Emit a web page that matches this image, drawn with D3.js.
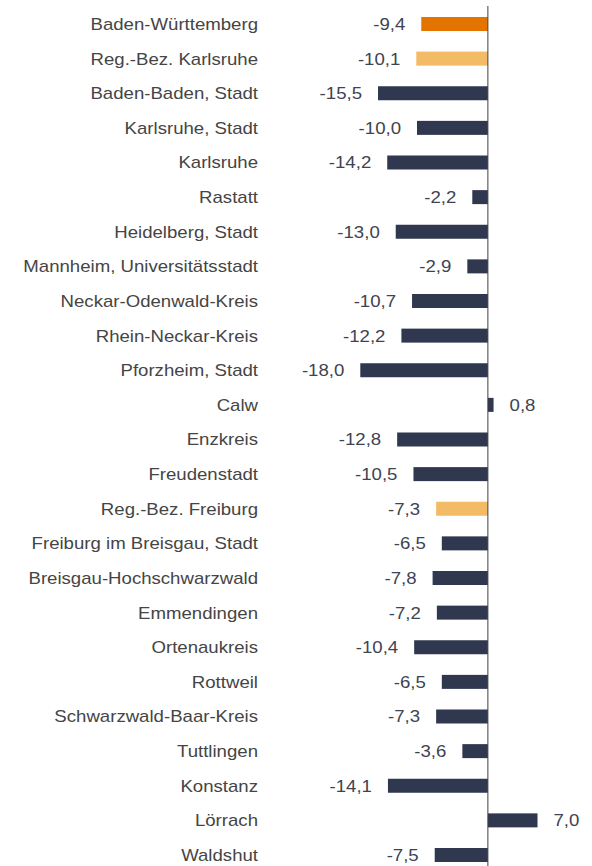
<!DOCTYPE html>
<html>
<head>
<meta charset="utf-8">
<script src="https://cdn.jsdelivr.net/npm/d3@7"></script>
<style>
  html, body { margin: 0; padding: 0; background: #fff; }
  svg { display: block; }
  text { font-family: "Liberation Sans", Arial, sans-serif; }
</style>
</head>
<body>
<svg id="chart" width="592" height="866"></svg>
<script>
// Regions (in display order)
const regions = [
  "Baden-Württemberg", "Reg.-Bez. Karlsruhe", "Baden-Baden, Stadt", "Karlsruhe, Stadt",
  "Karlsruhe", "Rastatt", "Heidelberg, Stadt", "Mannheim, Universitätsstadt",
  "Neckar-Odenwald-Kreis", "Rhein-Neckar-Kreis", "Pforzheim, Stadt", "Calw",
  "Enzkreis", "Freudenstadt", "Reg.-Bez. Freiburg", "Freiburg im Breisgau, Stadt",
  "Breisgau-Hochschwarzwald", "Emmendingen", "Ortenaukreis", "Rottweil",
  "Schwarzwald-Baar-Kreis", "Tuttlingen", "Konstanz", "Lörrach", "Waldshut"
];

// Change in percent
const changes = [
  -9.4, -10.1, -15.5, -10.0, -14.2, -2.2, -13.0, -2.9, -10.7, -12.2, -18.0, 0.8,
  -12.8, -10.5, -7.3, -6.5, -7.8, -7.2, -10.4, -6.5, -7.3, -3.6, -14.1, 7.0, -7.5
];

// Level of each region: state, administrative district or county
const levels = [
  "land", "bezirk", "kreis", "kreis", "kreis", "kreis", "kreis", "kreis",
  "kreis", "kreis", "kreis", "kreis", "kreis", "kreis", "bezirk", "kreis",
  "kreis", "kreis", "kreis", "kreis", "kreis", "kreis", "kreis", "kreis", "kreis"
];

const levelColors = { land: "#E37400", bezirk: "#F3BB66", kreis: "#2F384F" };

const data = regions.map((name, i) => ({ name, value: changes[i], level: levels[i] }));

const svg = d3.select("#chart");
const width = 592, height = 866;
const fontSize = 17;
const stretch = 1.095; // horizontal stretch of the label type

const x = d3.scaleLinear().domain([-18, 7]).range([360.3, 537.5]);
const rowStep = 34.625;
const y = d3.scaleBand()
  .domain(regions)
  .range([24 - rowStep / 2, 24 + rowStep * (regions.length - 0.5)])
  .paddingInner(1 - 14 / rowStep)
  .paddingOuter((1 - 14 / rowStep) / 2);

const fmt = v => d3.format(".1f")(v).replace(".", ",").replace("−", "-");
const cy = d => y(d.name) + y.bandwidth() / 2;

// Bars
svg.append("g")
  .selectAll("rect")
  .data(data)
  .join("rect")
  .attr("x", d => x(Math.min(0, d.value)))
  .attr("width", d => Math.abs(x(d.value) - x(0)))
  .attr("y", d => y(d.name))
  .attr("height", y.bandwidth())
  .attr("fill", d => levelColors[d.level]);

// Zero line
svg.append("line")
  .attr("x1", x(0)).attr("x2", x(0))
  .attr("y1", 6).attr("y2", height)
  .attr("stroke", "#404040")
  .attr("stroke-width", 1);

// Category labels
svg.append("g")
  .selectAll("text")
  .data(data)
  .join("text")
  .attr("transform", d => `translate(258,${cy(d)}) scale(${stretch},1)`)
  .attr("dy", "0.35em")
  .attr("text-anchor", "end")
  .attr("font-size", fontSize)
  .attr("fill", "#454545")
  .text(d => d.name);

// Value labels
svg.append("g")
  .selectAll("text")
  .data(data)
  .join("text")
  .attr("transform", d => `translate(${d.value < 0 ? x(d.value) - 16 : x(d.value) + 16},${cy(d)}) scale(${stretch},1)`)
  .attr("dy", "0.35em")
  .attr("text-anchor", d => d.value < 0 ? "end" : "start")
  .attr("font-size", fontSize)
  .attr("fill", "#3E4352")
  .text(d => fmt(d.value));
</script>
</body>
</html>
